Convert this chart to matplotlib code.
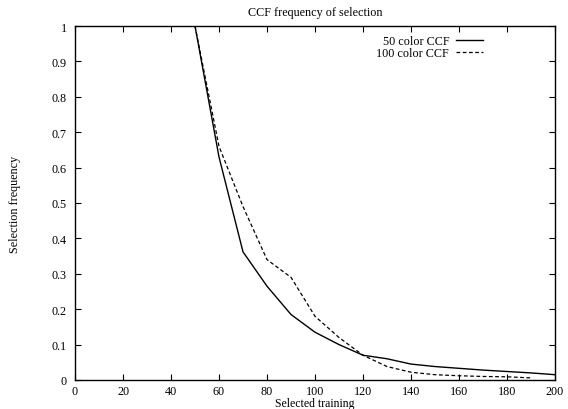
import numpy as np
import matplotlib
matplotlib.use("Agg")
import matplotlib.pyplot as plt

plt.rcParams['font.family'] = ['Liberation Serif', 'DejaVu Serif']
plt.rcParams['font.size'] = 8.7

# selected training values
x = [50, 60, 70, 80, 90, 100, 110, 120, 130, 140, 150, 160, 170, 180, 190, 200]
ccf50 = [1.0, 0.63, 0.362, 0.265, 0.185, 0.135, 0.10, 0.07, 0.06, 0.045, 0.038, 0.033, 0.028, 0.024, 0.02, 0.015]
x100 = [50, 60, 70, 80, 90, 100, 110, 120, 130, 140, 150, 160, 170, 180, 190]
ccf100 = [1.0, 0.66, 0.49, 0.34, 0.29, 0.18, 0.12, 0.07, 0.038, 0.022, 0.015, 0.012, 0.01, 0.009, 0.006]

xticks = np.arange(0, 201, 20)
yticks = [0, 0.1, 0.2, 0.3, 0.4, 0.5, 0.6, 0.7, 0.8, 0.9, 1]
ytick_labels = ['0', '0.1', '0.2', '0.3', '0.4', '0.5', '0.6', '0.7', '0.8', '0.9', '1']

fig = plt.figure(figsize=(5.68, 4.10), dpi=100)
ax = fig.add_axes([75/568, 1-381/410, 480/568, 354/410])

ax.plot(x, ccf50, 'k-', lw=1.0, label='50 color CCF')
ax.plot(x100, ccf100, 'k--', lw=0.9, dashes=(3, 2), label='100 color CCF')

ax.set_xlim(0, 200)
ax.set_ylim(0, 1)
ax.set_xticks(xticks)
ax.set_yticks(yticks)
ax.set_yticklabels(ytick_labels)
ax.tick_params(direction='in', length=4, width=0.8, top=True, right=True, pad=6)
ax.tick_params(axis='x', pad=3.5)
for s in ax.spines.values():
    s.set_linewidth(1.0)

ax.set_title('CCF frequency of selection', fontsize=8.7, pad=8)
# x label squeezed against the bottom edge, like the original
fig.text(315/568, 0.0, 'Selected training', ha='center', va='bottom', fontsize=8.5)
ax.set_ylabel('Selection frequency', labelpad=22)

ax.legend(loc='upper right', bbox_to_anchor=(0.85, 0.975), frameon=False,
          markerfirst=False, handlelength=2.2, handletextpad=0.6,
          labelspacing=0.05, borderaxespad=0.0, borderpad=0.0, fontsize=8.7)

fig.savefig('out.png', dpi=100)
